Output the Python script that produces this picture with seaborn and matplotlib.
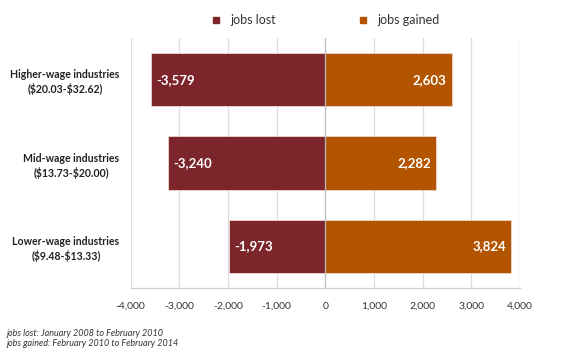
import matplotlib
matplotlib.use("Agg")
import matplotlib.pyplot as plt
import seaborn as sns
import pandas as pd
from matplotlib.lines import Line2D

categories = ["Higher-wage industries\n($20.03-$32.62)",
              "Mid-wage industries\n($13.73-$20.00)",
              "Lower-wage industries\n($9.48-$13.33)"]
jobs_lost = [-3579, -3240, -1973]
jobs_gained = [2603, 2282, 3824]
series = ["jobs lost", "jobs gained"]
xticks = [-4000, -3000, -2000, -1000, 0, 1000, 2000, 3000, 4000]
notes = ["jobs lost: January 2008 to February 2010",
         "jobs gained: February 2010 to February 2014"]

colors = {"jobs lost": "#7C262C", "jobs gained": "#B35400"}

df = pd.DataFrame({
    "category": categories * 2,
    "value": jobs_lost + jobs_gained,
    "series": [series[0]] * 3 + [series[1]] * 3,
})

sns.set_theme(style="white")
plt.rcParams["font.family"] = ["Lato", "DejaVu Sans"]
plt.rcParams["text.parse_math"] = False

fig = plt.figure(figsize=(5.7, 3.62), dpi=100)
ax = fig.add_axes([0.2293, 0.2044, 0.6827, 0.6906])

sns.barplot(data=df, y="category", x="value", hue="series", orient="h",
            dodge=False, width=0.64, palette=colors, order=categories,
            hue_order=series, saturation=1, edgecolor="#ead8d0", linewidth=0.6, ax=ax,
            legend=False, zorder=3)

ax.set_xlim(-4000, 4000)
ax.set_ylim(2.5, -0.5)
ax.set_xticks(xticks)
ax.set_xticklabels([f"{v:,}" for v in xticks], fontsize=7.5, color="#333333")
ax.tick_params(axis="x", length=3, color="#cccccc", width=0.8, pad=7, direction="out")
ax.tick_params(axis="y", length=0, pad=8)
for lbl in ax.get_yticklabels():
    lbl.set_fontsize(7.6)
    lbl.set_fontweight("bold")
    lbl.set_color("#222222")
    lbl.set_multialignment("center")
    lbl.set_linespacing(1.3)
ax.set_xlabel("")
ax.set_ylabel("")

for v in xticks:
    ax.axvline(v, color="#dddddd" if v != 0 else "#bbbbbb", lw=0.9, zorder=0 if v != 0 else 4)

for s in ["top", "right", "left"]:
    ax.spines[s].set_visible(False)
ax.spines["bottom"].set_color("#cccccc")
ax.spines["bottom"].set_linewidth(0.9)

for i, (l, g) in enumerate(zip(jobs_lost, jobs_gained)):
    ax.text(l + 110, i, f"{l:,}", color="white", fontweight="bold", fontsize=9.5,
            va="center", ha="left", zorder=5)
    ax.text(g - 110, i, f"{g:,}", color="white", fontweight="bold", fontsize=9.5,
            va="center", ha="right", zorder=5)

handles = [Line2D([], [], marker="s", ls="", color=colors[s], markersize=5) for s in series]
fig.legend(handles, series, loc="center", bbox_to_anchor=(0.564, 0.945), ncol=2,
           frameon=False, fontsize=9, handletextpad=0.15, columnspacing=6.0,
           labelcolor="#333333")

fig.text(0.012, 0.08, notes[0], fontsize=6.5, style="italic", color="#333333", va="center")
fig.text(0.012, 0.05, notes[1], fontsize=6.5, style="italic", color="#333333", va="center")

fig.savefig("out.png", dpi=100)
